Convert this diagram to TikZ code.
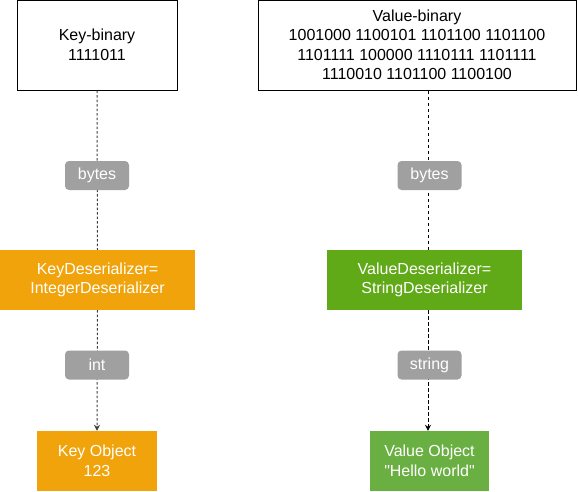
\documentclass[tikz,border=0pt]{standalone}
\usepackage{fontspec}
\setmainfont{Liberation Sans}[Ligatures=TeXOff]
\usetikzlibrary{arrows.meta}
\definecolor{korange}{HTML}{F0A30A}
\definecolor{vgreen}{HTML}{60A917}
\definecolor{vgreenobj}{HTML}{6AAF42}
\definecolor{lblgray}{HTML}{A0A0A0}
\tikzset{
  every node/.style={font=\fontsize{16}{19.5}\selectfont, align=center, inner sep=0pt},
  binbox/.style={draw=black, line width=1pt, fill=white, rectangle},
  orangebox/.style={fill=korange, text=white, rectangle},
  greenbox/.style={fill=vgreen, text=white, rectangle},
  greenobj/.style={fill=vgreenobj, text=white, rectangle},
  lbl/.style={fill=lblgray, text=white, rounded corners=4pt, minimum width=64pt, minimum height=29pt},
  keyline/.style={draw=black!75, line width=1pt, dash pattern=on 2.5pt off 2pt},
  valline/.style={draw=black, line width=0.9pt, dash pattern=on 3.5pt off 2.5pt},
}
\begin{document}
\begin{tikzpicture}[x=1pt,y=-1pt]
\useasboundingbox (0,0) rectangle (578,491);
% nodes
\node[binbox, minimum width=160pt, minimum height=90pt] (kb) at (97,45) {Key-binary\\1111011};
\node[binbox, minimum width=318pt, minimum height=90pt] (vb) at (417,45) {Value-binary\\1001000 1100101 1101100 1101100\\1101111 100000 1110111 1101111\\1110010 1101100 1100100};
\node[orangebox, minimum width=195pt, minimum height=60pt] (kd) at (97.5,280) {KeyDeserializer=\\IntegerDeserializer};
\node[greenbox, minimum width=195pt, minimum height=60pt] (vd) at (424.5,280) {ValueDeserializer=\\StringDeserializer};
\node[orangebox, minimum width=120pt, minimum height=60pt] (ko) at (97,461) {Key Object\\123};
\node[greenobj, minimum width=119pt, minimum height=60pt] (vo) at (429.5,461) {Value Object\\"Hello world"};
\coordinate (vl) at (428,0);
% connectors
\draw[keyline] (kb.south) -- (kd.north);
\draw[keyline, -{Stealth[length=6pt,width=6pt]}] (kd.south) -- (ko.north);
\draw[valline] (vb.south -| vl) -- (vd.north -| vl);
\draw[valline, -{Stealth[length=6pt,width=6pt]}] (vd.south -| vl) -- (vo.north -| vl);
% labels
\node[lbl] (lb1) at (97,175.5) {bytes};
\node[lbl] (lb2) at (429.5,175.5) {bytes};
\node[lbl] (lb3) at (97,365) {int};
\node[lbl] (lb4) at (429.5,365) {string};
\end{tikzpicture}
\end{document}
